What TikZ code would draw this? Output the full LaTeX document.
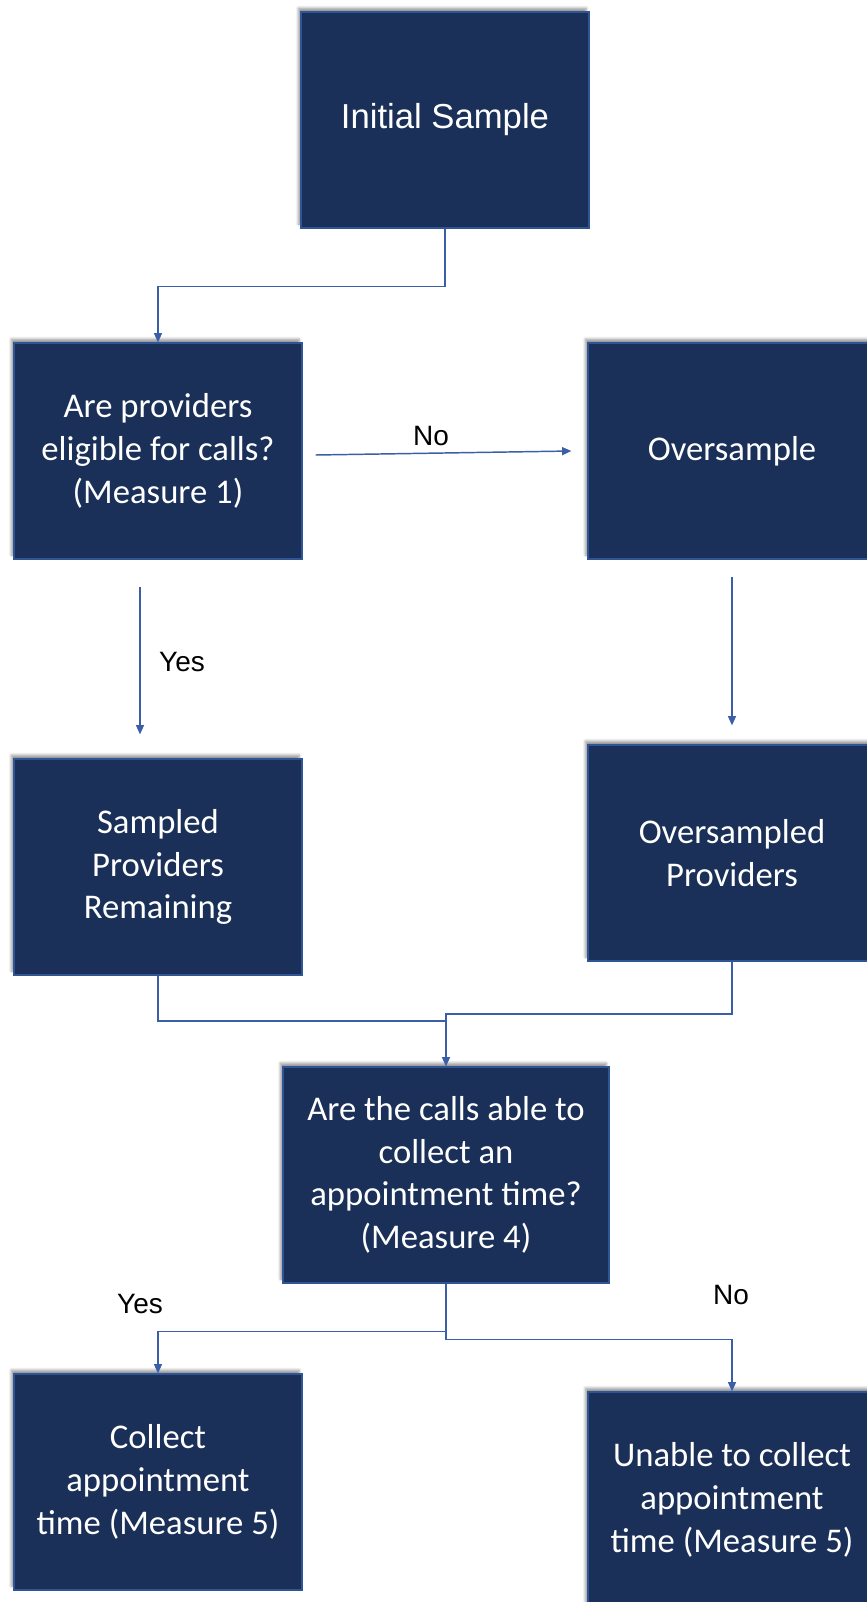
\documentclass[tikz,border=0pt]{standalone}
\usepackage{fontspec}
\setmainfont{Carlito}
\newfontfamily\arialfont{Liberation Sans}
\usetikzlibrary{arrows.meta,shadows.blur}
\definecolor{boxnavy}{RGB}{26,48,88}
\definecolor{boxedge}{RGB}{47,85,151}
\definecolor{linkblue}{RGB}{58,94,168}

\begin{document}
\begin{tikzpicture}[x=0.75pt, y=-0.75pt,
  stepbox/.style={draw=boxedge, line width=0.9pt, fill=boxnavy, text=white,
    minimum width=216pt, minimum height=162pt, align=center, inner sep=2pt,
    font=\fontsize{26}{32}\selectfont,
    blur shadow={shadow xshift=-2pt, shadow yshift=3pt, shadow blur steps=6}},
  link/.style={draw=linkblue, line width=1.1pt},
  linkarrow/.style={link, -{Triangle[length=7pt,width=6pt]}},
  answer/.style={font=\arialfont\fontsize{21}{25}\selectfont}]
  % Help lines
  %\draw[help lines,step=50,gray!50] (0,0) grid (867,1602);
  \useasboundingbox (0,0) rectangle (867,1602);
  \node[stepbox, font=\arialfont\fontsize{26}{32}\selectfont] (init) at (445, 120){Initial Sample};
  \node[stepbox] (elig) at (158, 451){Are providers\\eligible for calls?\\(Measure 1)};
  \node[stepbox] (over) at (732, 451){Oversample};
  \node[stepbox] (sampled) at (158, 867){Sampled\\Providers\\Remaining};
  \node[stepbox] (overp) at (732, 853){Oversampled\\Providers};
  \node[stepbox, minimum width=244.5pt] (calls) at (446, 1175){Are the calls able to\\collect an\\appointment time?\\(Measure 4)};
  \node[stepbox] (collect) at (158, 1482){Collect\\appointment\\time (Measure 5)};
  \node[stepbox] (unable) at (732, 1500){Unable to collect\\appointment\\time (Measure 5)};
  % Labels
  \node[answer] (no1) at (431, 436){No};
  \node[answer] (yes1) at (182, 662){Yes};
  \node[answer] (yes2) at (140, 1304){Yes};
  \node[answer] (no2) at (731, 1295){No};
  % Connectors
  \draw[linkarrow] (init.south) -- ++(0, 58) -| (elig.north);
  \draw[linkarrow] ([shift={(13, 4)}]elig.east) -- ([shift={(-16, 0)}]over.west);
  \draw[linkarrow] ([shift={(-18, 27)}]elig.south) -- ([shift={(-18, -24)}]sampled.north);
  \draw[linkarrow] ([shift={(0, 17)}]over.south) -- ([shift={(0, -19)}]overp.north);
  \coordinate (mergeL) at (446, 1021);
  \coordinate (mergeR) at (446, 1014);
  \draw[link] (sampled.south) |- (mergeL);
  \draw[linkarrow] (overp.south) |- (mergeR) -- (calls.north);
  \draw[linkarrow] (calls.south) -- ++(0, 48) -| (collect.north);
  \draw[linkarrow] (calls.south) -- ++(0, 56) -| (unable.north);
\end{tikzpicture}
\end{document}
